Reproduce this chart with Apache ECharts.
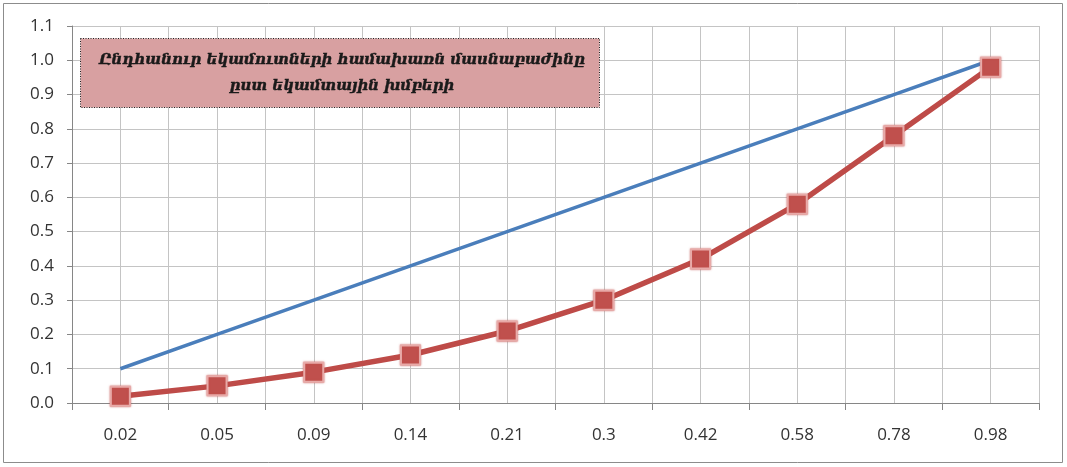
<!DOCTYPE html>
<html><head><meta charset="utf-8">
<script src="https://cdn.jsdelivr.net/npm/echarts@6/dist/echarts.min.js"></script>
<style>html,body{margin:0;padding:0;background:#fff}#c{width:1067px;height:467px}</style>
</head><body><div id="c"></div>
<script>
const categories = ['0.02','0.05','0.09','0.14','0.21','0.3','0.42','0.58','0.78','0.98'];
const equalityLine = [0.1,0.2,0.3,0.4,0.5,0.6,0.7,0.8,0.9,1.0];
const cumulativeShare = [0.02,0.05,0.09,0.14,0.21,0.3,0.42,0.58,0.78,0.98];
const titleLines = ['Ընդհանուր եկամուտների համախառն մասնաբաժինը','ըստ եկամտային խմբերի'];

const chart = echarts.init(document.getElementById('c'));
const gridCol = '#c4c4c4';
chart.setOption({
  animation:false,
  backgroundColor:'#fff',
  grid:{left:72,right:28,top:26,bottom:64},
  xAxis:[{
    type:'category', data:categories, boundaryGap:true,
    axisLine:{lineStyle:{color:'#868686',width:1}},
    axisTick:{show:true,length:7,lineStyle:{color:'#868686'}},
    axisLabel:{color:'#333',fontFamily:'Open Sans',fontSize:17,margin:24},
    splitLine:{show:false}
  },{
    type:'value', min:0, max:10, interval:0.5, position:'top',
    axisLine:{show:false}, axisTick:{show:false}, axisLabel:{show:false},
    splitLine:{show:true,lineStyle:{color:gridCol,width:1}}
  }],
  yAxis:{
    type:'value', min:0, max:1.1, interval:0.1,
    axisLine:{show:true,lineStyle:{color:'#868686'}},
    axisTick:{show:true,length:5,lineStyle:{color:'#868686'}},
    axisLabel:{color:'#333',fontFamily:'Open Sans',fontSize:17,margin:18,formatter:v=>v.toFixed(1)},
    splitLine:{show:true,lineStyle:{color:gridCol,width:1}}
  },
  series:[{
    type:'line', data:equalityLine, xAxisIndex:0, showSymbol:false, symbol:'none',
    lineStyle:{color:'#4a7ebb',width:3.5}, z:3
  },{
    type:'line', data:cumulativeShare, xAxisIndex:0, symbol:'rect', symbolSize:19,
    lineStyle:{color:'#be4b48',width:5.5},
    itemStyle:{color:'#c0504d',borderColor:'#e8aaa8',borderWidth:2,shadowColor:'rgba(192,80,77,0.7)',shadowBlur:2},
    z:4
  }],
  graphic:[
    {type:'rect',shape:{x:3.5,y:3.5,width:1059,height:459},style:{fill:'none',stroke:'#8c8c8c',lineWidth:1},silent:true,z:0},
    {type:'rect',shape:{x:80.5,y:38.5,width:519,height:69},style:{fill:'#d8a0a1',stroke:'#222',lineWidth:1,lineDash:[1,1.5]},z:10},
    {type:'text',x:342,y:73,style:{text:titleLines.join('\n'),fill:'#1a1a1a',font:'italic bold 15px "DejaVu Serif"',textAlign:'center',textVerticalAlign:'middle',lineHeight:26,stroke:'#1a1a1a',lineWidth:0.4},z:11}
  ]
});
</script></body></html>
